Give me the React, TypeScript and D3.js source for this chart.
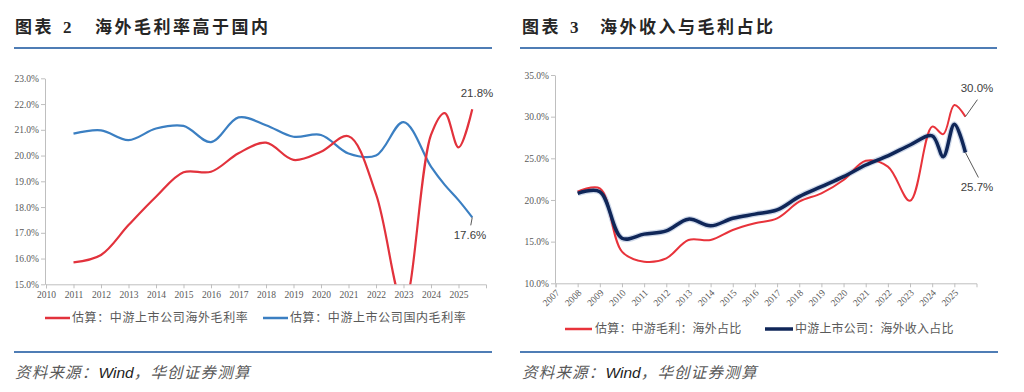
import { useEffect, useRef } from "react";
import * as d3 from "d3";

// 图表2 海外毛利率高于国内
const leftYearTicks = [2010, 2011, 2012, 2013, 2014, 2015, 2016, 2017, 2018, 2019, 2020, 2021, 2022, 2023, 2024, 2025];
const leftYears = [2011, 2012, 2013, 2014, 2015, 2016, 2017, 2018, 2019, 2020, 2021, 2022, 2023, 2024, 2024.5, 2025, 2025.5];
const leftOverseas = [15.85, 16.14, 17.3, 18.4, 19.35, 19.37, 20.09, 20.5, 19.83, 20.15, 20.75, 18.5, 14.2, 20.8, 21.65, 20.32, 21.8];
const leftDomestic = [20.85, 20.98, 20.6, 21.05, 21.15, 20.52, 21.48, 21.18, 20.73, 20.8, 20.08, 20.0, 21.3, 19.57, 18.86, 18.27, 17.6];
const leftYTicks = [15, 16, 17, 18, 19, 20, 21, 22, 23];

// 图表3 海外收入与毛利占比
const rightYearTicks = [2007, 2008, 2009, 2010, 2011, 2012, 2013, 2014, 2015, 2016, 2017, 2018, 2019, 2020, 2021, 2022, 2023, 2024, 2025];
const rightYears = [2008, 2009, 2010, 2011, 2012, 2013, 2014, 2015, 2016, 2017, 2018, 2019, 2020, 2021, 2022, 2023, 2024, 2024.5, 2025, 2025.5];
const rightMargin = [21.0, 21.4, 13.8, 12.6, 13.0, 15.2, 15.2, 16.4, 17.2, 17.8, 19.8, 20.8, 22.4, 24.7, 24.0, 19.9, 28.8, 27.9, 31.4, 30.0];
const rightRevenue = [20.8, 21.0, 15.4, 15.9, 16.3, 17.7, 16.9, 17.8, 18.3, 18.8, 20.4, 21.6, 22.8, 24.2, 25.3, 26.6, 27.7, 25.2, 29.1, 25.7];
const rightYTicks = [10, 15, 20, 25, 30, 35];

const RULE = "#4f7db5";
const AXIS = "#bfbfbf";
const TICKTXT = "#595959";
const SERIF = "'Liberation Serif', 'Times New Roman', serif";
const CJK = "'Noto Sans CJK SC', sans-serif";
const SANS = "'Liberation Sans', Arial, sans-serif";

const lx = d3.scaleLinear().domain([2010, 2026]).range([46, 486]);
const ly = d3.scaleLinear().domain([15, 23]).range([284.3, 78.3]);
const rx = d3.scaleLinear().domain([2007, 2026]).range([555.5, 976.5]);
const ry = d3.scaleLinear().domain([10, 35]).range([283.3, 75]);

const curve = d3.curveCatmullRom.alpha(0.5);

function pathOf(xs: number[], vs: number[], x: any, y: any) {
  const gen = d3.line<number>().x((_, i) => x(xs[i])).y((d) => y(d)).curve(curve);
  return gen(vs) || "";
}

function styleAxis(g: any) {
  g.select(".domain").attr("stroke", AXIS);
  g.selectAll(".tick line").attr("stroke", AXIS);
  g.selectAll(".tick text").attr("fill", TICKTXT).style("font-family", SERIF).style("font-size", "9.5px");
}

export default function App() {
  const lxRef = useRef<SVGGElement>(null);
  const lyRef = useRef<SVGGElement>(null);
  const rxRef = useRef<SVGGElement>(null);
  const ryRef = useRef<SVGGElement>(null);

  useEffect(() => {
    const pct = (d: any) => (+d).toFixed(1) + "%";

    const gLx = d3.select(lxRef.current);
    gLx.selectAll("*").remove();
    gLx.call(d3.axisBottom(lx).tickValues(leftYearTicks).tickSize(4).tickSizeOuter(4).tickFormat(d3.format("d")) as any);
    styleAxis(gLx);

    const gLy = d3.select(lyRef.current);
    gLy.selectAll("*").remove();
    gLy.call(d3.axisLeft(ly).tickValues(leftYTicks).tickSize(4).tickSizeOuter(0).tickPadding(2).tickFormat(pct) as any);
    styleAxis(gLy);

    const gRx = d3.select(rxRef.current);
    gRx.selectAll("*").remove();
    gRx.call(d3.axisBottom(rx).tickValues(rightYearTicks).tickSize(4).tickSizeOuter(4).tickFormat(d3.format("d")) as any);
    styleAxis(gRx);
    gRx.selectAll(".tick text")
      .attr("y", 0)
      .attr("dy", 0)
      .attr("transform", "translate(4,10) rotate(-45)")
      .style("text-anchor", "end");

    const gRy = d3.select(ryRef.current);
    gRy.selectAll("*").remove();
    gRy.call(d3.axisLeft(ry).tickValues(rightYTicks).tickSize(4).tickSizeOuter(0).tickPadding(2).tickFormat(pct) as any);
    styleAxis(gRy);
  }, []);

  const redL = "#e2323c";
  const blueL = "#3b7fc2";
  const redR = "#e8333b";
  const navy = "#0f2658";

  const lastL = leftYears.length - 1;
  const lastR = rightYears.length - 1;

  const titleStyle = { fontFamily: CJK, fontSize: 17, fontWeight: 700, letterSpacing: 2.5 };
  const srcStyle = { fontFamily: CJK, fontSize: 15.5, fontStyle: "italic" as const, letterSpacing: 1.2 };

  return (
    <svg width={1024} height={392} style={{ position: "absolute", left: 0, top: 0, background: "#fff" }}>
      <defs>
        <clipPath id="clipL">
          <rect x={lx(2010)} y={60} width={lx(2026) - lx(2010)} height={ly(15) - 60} />
        </clipPath>
      </defs>

      {/* titles */}
      <text y={33} style={titleStyle} fill="#262626">
        <tspan x={15}>图表</tspan>
        <tspan x={63} fontFamily={SERIF}>2</tspan>
        <tspan x={95}>海外毛利率高于国内</tspan>
      </text>
      <text y={33} style={titleStyle} fill="#262626">
        <tspan x={522}>图表</tspan>
        <tspan x={570} fontFamily={SERIF}>3</tspan>
        <tspan x={600}>海外收入与毛利占比</tspan>
      </text>
      <line x1={14} x2={492} y1={48} y2={48} stroke={RULE} strokeWidth={2} />
      <line x1={520} x2={997} y1={48} y2={48} stroke={RULE} strokeWidth={2} />

      {/* left chart */}
      <g ref={lxRef} transform={`translate(0,${ly(15)})`} />
      <g ref={lyRef} transform={`translate(${lx(2010) - 1},0)`} />
      <g clipPath="url(#clipL)">
        <path d={pathOf(leftYears, leftDomestic, lx, ly)} fill="none" stroke={blueL} strokeWidth={2.2} />
        <path d={pathOf(leftYears, leftOverseas, lx, ly)} fill="none" stroke={redL} strokeWidth={2.2} />
      </g>
      <text x={477} y={97} textAnchor="middle" style={{ fontFamily: SANS, fontSize: 11.5 }} fill="#404040">21.8%</text>
      <line x1={lx(leftYears[lastL])} y1={ly(leftDomestic[lastL])} x2={lx(leftYears[lastL]) - 1.5} y2={ly(leftDomestic[lastL]) + 8} stroke="#595959" strokeWidth={1} />
      <text x={470} y={239} textAnchor="middle" style={{ fontFamily: SANS, fontSize: 11.5 }} fill="#404040">17.6%</text>

      {/* left legend */}
      <line x1={45} x2={70} y1={318} y2={318} stroke={redL} strokeWidth={2.5} />
      <text x={72} y={322} style={{ fontFamily: CJK, fontSize: 12, letterSpacing: 0.6 }} fill="#595959">估算：中游上市公司海外毛利率</text>
      <line x1={263} x2={288} y1={318} y2={318} stroke={blueL} strokeWidth={2.5} />
      <text x={290} y={322} style={{ fontFamily: CJK, fontSize: 12, letterSpacing: 0.6 }} fill="#595959">估算：中游上市公司国内毛利率</text>

      {/* right chart */}
      <g ref={rxRef} transform={`translate(0,${ry(10)})`} />
      <g ref={ryRef} transform={`translate(${rx(2007) - 0.5},0)`} />
      <path d={pathOf(rightYears, rightRevenue, rx, ry)} fill="none" stroke="#b9c8e0" strokeWidth={6} strokeOpacity={0.7} />
      <path d={pathOf(rightYears, rightMargin, rx, ry)} fill="none" stroke={redR} strokeWidth={2} />
      <path d={pathOf(rightYears, rightRevenue, rx, ry)} fill="none" stroke={navy} strokeWidth={3.5} />
      <line x1={rx(rightYears[lastR])} y1={ry(rightMargin[lastR])} x2={rx(rightYears[lastR]) + 12} y2={ry(rightMargin[lastR]) - 17} stroke="#595959" strokeWidth={1} />
      <text x={977} y={92} textAnchor="middle" style={{ fontFamily: SANS, fontSize: 11.5 }} fill="#404040">30.0%</text>
      <line x1={rx(rightYears[lastR])} y1={ry(rightRevenue[lastR])} x2={rx(rightYears[lastR]) + 13} y2={ry(rightRevenue[lastR]) + 25} stroke="#595959" strokeWidth={1} />
      <text x={977} y={191} textAnchor="middle" style={{ fontFamily: SANS, fontSize: 11.5 }} fill="#404040">25.7%</text>

      {/* right legend */}
      <line x1={565} x2={592} y1={329} y2={329} stroke={redR} strokeWidth={2.5} />
      <text x={595} y={333} style={{ fontFamily: CJK, fontSize: 12, letterSpacing: 0.2 }} fill="#595959">估算：中游毛利：海外占比</text>
      <line x1={765} x2={793} y1={329} y2={329} stroke={navy} strokeWidth={3.5} />
      <text x={795} y={333} style={{ fontFamily: CJK, fontSize: 12, letterSpacing: 0.2 }} fill="#595959">中游上市公司：海外收入占比</text>

      {/* bottom rules and sources */}
      <line x1={14} x2={492} y1={352} y2={352} stroke={RULE} strokeWidth={2} />
      <line x1={520} x2={998} y1={352} y2={352} stroke={RULE} strokeWidth={2} />
      <text x={15} y={378} style={srcStyle} fill="#595959">
        资料来源：<tspan fontFamily={SANS} fill="#222" letterSpacing={0}>Wind</tspan>，华创证券测算
      </text>
      <text x={522} y={378} style={srcStyle} fill="#595959">
        资料来源：<tspan fontFamily={SANS} fill="#222" letterSpacing={0}>Wind</tspan>，华创证券测算
      </text>
    </svg>
  );
}
